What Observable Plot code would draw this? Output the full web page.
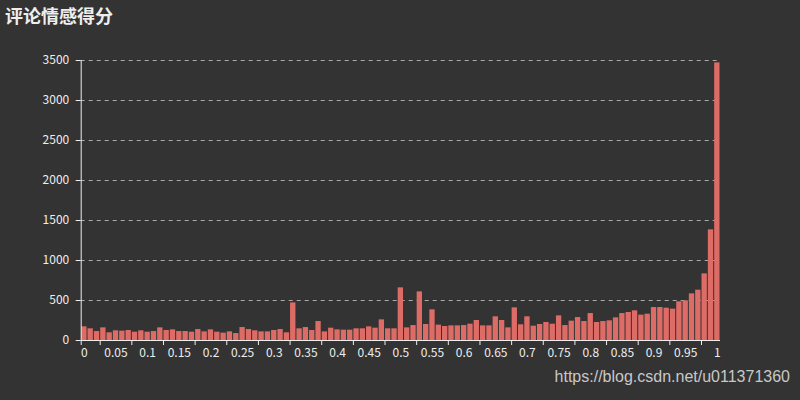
<!DOCTYPE html>
<html>
<head>
<meta charset="utf-8">
<script src="https://cdn.jsdelivr.net/npm/d3@7"></script>
<script src="https://cdn.jsdelivr.net/npm/@observablehq/plot@0.6"></script>
<style>
  html, body { margin: 0; padding: 0; background: #333; }
  #wrap { position: relative; width: 800px; height: 400px; background: #333; overflow: hidden; }
  #title { position: absolute; left: 5px; top: 2px; font: bold 18px "Noto Sans CJK SC", sans-serif; color: #eee; }
  #mark { position: absolute; right: 10px; top: 368px; font: 16px "Liberation Sans", Arial, sans-serif; color: #c8c8c8; }
  svg { display: block; }
</style>
</head>
<body>
<div id="wrap">
  <div id="chart"></div>
  <div id="title">评论情感得分</div>
  <div id="mark">https://blog.csdn.net/u011371360</div>
</div>
<script>
// categories: sentiment score 0.00 .. 1.00
const scores = d3.range(0, 101).map(i => +(i / 100).toFixed(2));
// comment counts per score
const counts = [
  171, 146, 112, 158, 96, 121, 117, 125, 104, 121,
  104, 112, 158, 125, 133, 112, 112, 104, 137, 108,
  133, 104, 92, 108, 87, 162, 137, 121, 108, 108,
  125, 137, 96, 470, 146, 162, 125, 237, 108, 154,
  133, 129, 129, 146, 146, 171, 154, 258, 146, 146,
  658, 158, 187, 608, 200, 383, 192, 175, 183, 183,
  187, 204, 250, 183, 183, 296, 250, 158, 408, 196,
  296, 179, 200, 225, 204, 308, 187, 242, 287, 237,
  337, 225, 237, 246, 283, 337, 350, 371, 317, 329,
  412, 412, 404, 392, 483, 496, 583, 629, 833, 1383,
  3470
];
const xLabels = [0, 0.05, 0.1, 0.15, 0.2, 0.25, 0.3, 0.35, 0.4, 0.45, 0.5,
                 0.55, 0.6, 0.65, 0.7, 0.75, 0.8, 0.85, 0.9, 0.95, 1];
const yTicks = [0, 500, 1000, 1500, 2000, 2500, 3000, 3500];

const half = 0.005;
const data = scores.map((s, i) => ({score: s, count: counts[i]}));
// tick marks sit on category boundaries (first boundary and every 5th from the 3rd)
const tickBounds = [scores[0] - half].concat(
  scores.filter((s, i) => i >= 3 && (i - 3) % 5 === 0).map(s => +(s - half).toFixed(3))
);

const chart = Plot.plot({
  width: 800,
  height: 400,
  marginLeft: 80.7,
  marginRight: 80,
  marginTop: 60,
  marginBottom: 60,
  style: {background: "#333", color: "#eee", fontSize: "12px", fontFamily: "'Noto Sans CJK SC', 'Noto Sans', sans-serif"},
  x: {domain: [scores[0] - half, scores[scores.length - 1] + half]},
  y: {domain: [0, 3500]},
  marks: [
    Plot.gridY(yTicks.slice(1), {stroke: "#aaa", strokeOpacity: 1, strokeDasharray: "4,4"}),
    Plot.rectY(data, {
      x1: d => d.score - half,
      x2: d => d.score + half,
      y: "count",
      fill: "#dd6b66",
      insetLeft: 0.5,
      insetRight: 0.5
    }),
    Plot.ruleY([0], {stroke: "#eee"}),
    Plot.ruleX([scores[0] - half], {stroke: "#eee"}),
    Plot.axisY(yTicks, {tickSize: 5, tickPadding: 7, label: null, tickFormat: d => String(d), stroke: "#eee"}),
    Plot.axisX(xLabels, {tickSize: 0, tickPadding: 8, label: null, tickFormat: d => String(d)}),
    Plot.axisX(tickBounds, {tickSize: 5, label: null, tickFormat: () => "", stroke: "#eee"})
  ]
});
document.getElementById("chart").appendChild(chart);
</script>
</body>
</html>
